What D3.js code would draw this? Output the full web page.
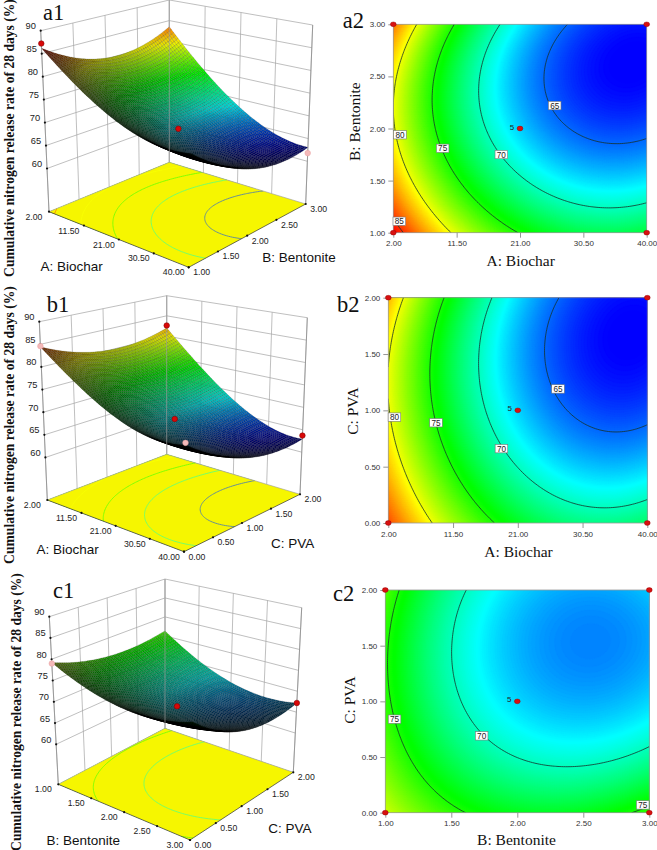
<!DOCTYPE html>
<html><head><meta charset="utf-8">
<script src="https://cdn.jsdelivr.net/npm/d3@7/dist/d3.min.js"></script>
<style>html,body{margin:0;padding:0;background:#fff}svg{display:block}</style>
</head><body><svg id="chart" width="657" height="850" viewBox="0 0 657 850"></svg>
<script>
// ---------- data ----------
const biocharTicks = [2, 11.5, 21, 30.5, 40];
const bentoniteTicks = [1, 1.5, 2, 2.5, 3];
const pvaTicks = [0, 0.5, 1, 1.5, 2];
const responseTicks = [60, 65, 70, 75, 80, 85, 90];
const contourLevels = [65, 70, 75, 80, 85];
const responseFloor = 50.6;

// response at the tick levels: rows = y factor ascending, columns = x factor ascending
const surfaceAB = [
  [86.1, 79.6, 75.2, 72.8, 72.5],
  [82.2, 75.0, 69.8, 67.9, 68.8],
  [80.5, 73.0, 67.4, 64.3, 64.3],
  [80.3, 72.5, 66.6, 63.3, 62.5],
  [83.5, 74.6, 68.2, 64.5, 63.0]
];
const surfaceAC = [
  [84.6, 78.3, 73.6, 71.1, 72.0],
  [81.0, 75.0, 70.0, 67.4, 67.8],
  [80.5, 72.8, 67.7, 64.4, 64.3],
  [80.3, 72.6, 66.7, 63.3, 62.4],
  [82.0, 73.7, 67.9, 64.0, 63.0]
];
const surfaceBC = [
  [79.0, 75.6, 73.9, 73.9, 75.5],
  [77.2, 72.4, 69.8, 69.3, 71.0],
  [75.3, 70.6, 67.5, 66.5, 67.5],
  [75.3, 70.0, 66.9, 65.8, 66.5],
  [76.3, 70.9, 67.7, 66.4, 67.1]
];

// design points: [x factor, y factor, response, is-below-surface]
const pointsAB = [[2, 1, 87.2, 0], [21, 2, 68.6, 0], [40, 3, 61.8, 1]];
const pointsAC = [[2, 2, 82.6, 0], [2, 0, 84.6, 1], [21, 1, 68.6, 0], [40, 0, 72.4, 1], [40, 2, 63.7, 0]];
const pointsBC = [[1, 0, 79.0, 1], [2, 1, 68.3, 0], [3, 2, 67.2, 0]];

// contour label placements: [x factor, y factor, text]
const labelsAB = [[2.9, 1.11, "85"], [3, 1.94, "80"], [9.4, 1.81, "75"], [18.2, 1.75, "70"], [26.2, 2.22, "65"]];
const labelsAC = [[2.9, 0.94, "80"], [9, 0.89, "75"], [18.6, 0.66, "70"], [26.9, 1.19, "65"]];
const labelsBC = [[1.07, 0.84, "75"], [1.73, 0.69, "70"], [2.95, 0.07, "75"]];

const colorStops = [62.6, 68.5, 74.4, 80.3, 86.2];
const colorRange = ["#0000ff", "#00ffff", "#00ff00", "#ffff00", "#ff0000"];

// ---------- layout ----------
const rows = [
  {
    key: "a", grid: surfaceAB, xTicks: biocharTicks, yTicks: bentoniteTicks, pts: pointsAB, labels: labelsAB,
    xName: "A: Biochar", yName: "B: Bentonite",
    box: { L0:[49,211.7], L1:[40.7,30.7], B0:[169.3,162.3], B1:[169.3,0], R0:[305.7,204], R1:[312.7,25], F0:[188.7,267.3], F1:[191.7,66.7] },
    t3: [43,20], t2: [342.7,28], xT3: [71.7,271], yT3: [299,262], zT: [14,138],
    plot: { x0:393.3, x1:646.7, y0:24.3, y1:232.7 }, xT2: [520.7,266], yT2: [360,121.7], repl: [-8,-1]
  },
  {
    key: "b", grid: surfaceAC, xTicks: biocharTicks, yTicks: pvaTicks, pts: pointsAC, labels: labelsAC,
    xName: "A: Biochar", yName: "C: PVA",
    box: { L0:[47.3,500], L1:[39.3,321.7], B0:[166.7,454.3], B1:[166.7,295.7], R0:[300,494.3], R1:[307.3,317.7], F0:[184,551.7], F1:[186.7,355] },
    t3: [46.7,311.7], t2: [337,311.7], xT3: [67.7,554], yT3: [292.7,547.5], zT: [14,425],
    plot: { x0:388.3, x1:647.3, y0:297.7, y1:523 }, xT2: [518.5,557], yT2: [358,411], repl: [-8,-1]
  },
  {
    key: "c", grid: surfaceBC, xTicks: bentoniteTicks, yTicks: pvaTicks, pts: pointsBC, labels: labelsBC,
    xName: "B: Bentonite", yName: "C: PVA",
    box: { L0:[58.3,784.3], L1:[49.3,616.7], B0:[165,728.3], B1:[165,579], R0:[293.3,772.3], R1:[301.7,607.7], F0:[190,840], F1:[194.3,654.3] },
    t3: [53,598], t2: [333,600.7], xT3: [83.3,845], yT3: [290,833], zT: [21,712],
    plot: { x0:385.3, x1:649.3, y0:590, y1:812.7 }, xT2: [516.5,845], yT2: [355,700], repl: [-8,-1]
  }
];

const SANS = "'Liberation Sans', Arial, sans-serif";
const SERIF = "'Liberation Serif', 'Times New Roman', serif";
const svg = d3.select("#chart");
const defs = svg.append("defs");
const fmt = d3.format(".2f");
const colorOf = d3.scaleLinear().domain(colorStops).range(colorRange).interpolate(d3.interpolateRgb).clamp(true);
const zFrac = d3.scaleLinear().domain([responseFloor, 90]).range([0, 1]);

// Smooth reading of a 5x5 table: low-order least-squares fit over the five tick levels
const P5 = [[1, 1, 1, 1, 1], [-2, -1, 0, 1, 2], [2, -1, -2, -1, 2], [-1, 2, 0, -2, 1]];
const P5norm = [5, 10, 14, 10];
const pEval = x => [1, x, x * x - 2, (5 / 6) * (x * x * x - 3.4 * x)];
function sampler(grid) {
  const coef = [];
  for (let a = 0; a < 4; a++) for (let b = 0; a + b < 4; b++) {
    let sum = 0;
    for (let r = 0; r < 5; r++) for (let c = 0; c < 5; c++) sum += grid[r][c] * P5[a][c] * P5[b][r];
    coef.push([a, b, sum / (P5norm[a] * P5norm[b])]);
  }
  return (u, v) => {
    const pu = pEval(u * 4 - 2), pv = pEval(v * 4 - 2);
    let z = 0;
    coef.forEach(k => { z += k[2] * pu[k[0]] * pv[k[1]]; });
    return z;
  };
}
function fineField(f, n) {
  const vals = new Array(n * n);
  for (let j = 0; j < n; j++) for (let i = 0; i < n; i++) vals[j * n + i] = f(i / (n - 1), j / (n - 1));
  return vals;
}
const mix = (a, b, t) => [a[0] + (b[0] - a[0]) * t, a[1] + (b[1] - a[1]) * t];

rows.forEach(row => {
  const f = sampler(row.grid), b = row.box;
  const uS = d3.scaleLinear().domain(d3.extent(row.xTicks)).range([0, 1]);
  const vS = d3.scaleLinear().domain(d3.extent(row.yTicks)).range([0, 1]);

  // t: front-left edge L->F, s: L->B
  const floorAt = (t, s) => mix(mix(b.L0, b.F0, t), mix(b.B0, b.R0, t), s);
  const topAt = (t, s) => mix(mix(b.L1, b.F1, t), mix(b.B1, b.R1, t), s);
  const proj = (t, s, z) => mix(floorAt(t, s), topAt(t, s), zFrac(z));

  const g3 = svg.append("g").attr("class", "surface3d-" + row.key);
  const wall = "#a3a3a3";
  const seg = (p, q, col, w) => g3.append("line").attr("x1", p[0]).attr("y1", p[1]).attr("x2", q[0]).attr("y2", q[1])
    .attr("stroke", col).attr("stroke-width", w);

  // back walls
  responseTicks.forEach(z => {
    seg(proj(0, 0, z), proj(0, 1, z), wall, 0.7);
    seg(proj(0, 1, z), proj(1, 1, z), wall, 0.7);
  });
  row.yTicks.forEach(v => seg(floorAt(0, vS(v)), topAt(0, vS(v)), wall, 0.7));
  row.xTicks.forEach(v => seg(floorAt(uS(v), 1), topAt(uS(v), 1), wall, 0.7));

  // floor
  const floorPoly = [[0, 0], [1, 0], [1, 1], [0, 1]].map(d => floorAt(d[0], d[1]));
  g3.append("polygon").attr("points", floorPoly.join(" ")).attr("fill", "#f6f600").attr("stroke", "none");
  const clipF = "floor-" + row.key;
  defs.append("clipPath").attr("id", clipF).append("polygon").attr("points", floorPoly.join(" "));
  const nC = 81;
  const field = fineField(f, nC);
  const floorPath = d3.geoPath(d3.geoTransform({
    point(x, y) {
      const p = floorAt((x - 0.5) / (nC - 1), (y - 0.5) / (nC - 1));
      this.stream.point(p[0], p[1]);
    }
  }));
  g3.append("g").attr("clip-path", `url(#${clipF})`).selectAll("path")
    .data(d3.contours().size([nC, nC]).thresholds(contourLevels)(field))
    .join("path").attr("d", floorPath).attr("fill", "none")
    .attr("stroke", d => d.value > 67
      ? d3.interpolateRgb(colorOf(d.value), "#ffff00")(0.45)
      : d3.interpolateRgb(colorOf(d.value), "#a8a850")(0.62))
    .attr("stroke-width", 1);
  // floor edges and ticks
  seg(b.L0, b.F0, "#333", 0.7); seg(b.F0, b.R0, "#333", 0.7);
  seg(b.L0, b.B0, "#999", 0.6); seg(b.B0, b.R0, "#999", 0.6);

  // surface mesh, painted back to front
  const N = 64, dd = 1e-3;
  const quads = [];
  for (let i = 0; i < N; i++) for (let j = N - 1; j >= 0; j--) {
    const t0 = i / N, t1 = (i + 1) / N, s0 = j / N, s1 = (j + 1) / N;
    const tm = (t0 + t1) / 2, sm = (s0 + s1) / 2;
    const z = f(tm, sm);
    const dzt = (f(tm + dd, sm) - f(tm - dd, sm)) / (2 * dd);
    const dzs = (f(tm, sm + dd) - f(tm, sm - dd)) / (2 * dd);
    const ndv = (0.0178 * (dzs - dzt) + 0.407) / Math.hypot(1, 0.0276 * dzt, 0.0276 * dzs);
    const shade = Math.min(1, Math.pow(Math.abs(ndv), 1.3) * 1.08);
    const c = d3.rgb(colorOf(z));
    quads.push({
      pts: [[t0, s0], [t1, s0], [t1, s1], [t0, s1]].map(q => proj(q[0], q[1], f(q[0], q[1]))),
      fill: d3.rgb(c.r * shade, c.g * shade, c.b * shade)
    });
  }
  const quadLine = d3.line().curve(d3.curveLinearClosed);
  g3.append("g").selectAll("path").data(quads).join("path")
    .attr("d", d => quadLine(d.pts)).attr("fill", d => d.fill)
    .attr("stroke", "#000").attr("stroke-opacity", 0.3).attr("stroke-width", 0.45);

  // vertical axis + tick dots
  seg(b.L0, b.L1, "#888", 0.7); seg(b.B0, b.B1, "#a3a3a3", 0.7); seg(b.R0, b.R1, "#888", 0.7);
  const dot = (p) => g3.append("circle").attr("cx", p[0]).attr("cy", p[1]).attr("r", 1.1).attr("fill", "#111");
  const tick = (p, s, anchor = "middle", dx = 0, dy = 0) => g3.append("text").attr("x", p[0] + dx).attr("y", p[1] + dy)
    .attr("text-anchor", anchor).attr("font-family", SANS).attr("font-size", 8.7).attr("fill", "#222").text(s);
  responseTicks.forEach(z => {
    const p = proj(0, 0, z);
    dot(p);
    g3.append("text").attr("x", p[0] - 10).attr("y", p[1] - 1.5).attr("text-anchor", "middle")
      .attr("font-family", SANS).attr("font-size", 9.3).attr("fill", "#222").text(z);
  });
  row.xTicks.forEach(v => { const p = floorAt(uS(v), 0); dot(p); tick(p, fmt(v), "middle", -15, 8); });
  row.yTicks.forEach(v => { const p = floorAt(1, vS(v)); dot(p); tick(p, fmt(v), "middle", 13, 8); });

  // design points on the 3-D view
  g3.append("g").selectAll("circle").data(row.pts).join("circle")
    .attr("cx", d => proj(uS(d[0]), vS(d[1]), d[2])[0])
    .attr("cy", d => proj(uS(d[0]), vS(d[1]), d[2])[1])
    .attr("r", 2.8)
    .attr("fill", d => d[3] ? "#f4b9b9" : "#d80808")
    .attr("stroke", d => d[3] ? "#e8a0a0" : "#7a0000").attr("stroke-width", 0.5);

  // titles
  const txt = (p, s, fam, size, extra = {}) => {
    const e = svg.append("text").attr("x", p[0]).attr("y", p[1]).attr("font-family", fam).attr("font-size", size).attr("fill", "#111").text(s);
    Object.entries(extra).forEach(([k, v]) => e.attr(k, v));
    return e;
  };
  txt(row.xT3, row.xName, SANS, 13.5, { "text-anchor": "middle" });
  txt(row.yT3, row.yName, SANS, 13.5, { "text-anchor": "middle" });
  txt([0, 0], "Cumulative nitrogen release rate of 28 days (%)", SERIF, 13.6, {
    "text-anchor": "middle", "font-weight": "bold",
    transform: `translate(${row.zT[0]},${row.zT[1]}) rotate(-90)`
  });
  txt(row.t3, row.key + "1", SERIF, 22.5);
  txt(row.t2, row.key + "2", SERIF, 22.5);

  // ---------- 2-D contour plot ----------
  const P = row.plot;
  const xS = d3.scaleLinear().domain(d3.extent(row.xTicks)).range([P.x0, P.x1]);
  const yS = d3.scaleLinear().domain(d3.extent(row.yTicks)).range([P.y1, P.y0]);
  const g2 = svg.append("g").attr("class", "contour2d-" + row.key);
  const clip2 = "plot-" + row.key;
  defs.append("clipPath").attr("id", clip2).append("rect")
    .attr("x", P.x0).attr("y", P.y0).attr("width", P.x1 - P.x0).attr("height", P.y1 - P.y0);
  const n2 = 121;
  const vals = fineField(f, n2);
  const pathFine = d3.geoPath(d3.geoTransform({
    point(x, y) {
      this.stream.point(P.x0 + (x - 0.5) / (n2 - 1) * (P.x1 - P.x0), P.y1 - (y - 0.5) / (n2 - 1) * (P.y1 - P.y0));
    }
  }));
  const zMin = d3.min(vals), zMax = d3.max(vals);
  const inner = g2.append("g").attr("clip-path", `url(#${clip2})`);
  inner.append("rect").attr("x", P.x0).attr("y", P.y0).attr("width", P.x1 - P.x0).attr("height", P.y1 - P.y0)
    .attr("fill", colorOf(zMin));
  inner.append("g").selectAll("path")
    .data(d3.contours().size([n2, n2]).thresholds(d3.range(Math.floor(zMin), zMax, 0.1))(vals))
    .join("path").attr("d", pathFine).attr("fill", d => colorOf(d.value + 0.05))
    .attr("stroke", d => colorOf(d.value + 0.05)).attr("stroke-width", 0.2);
  inner.append("g").selectAll("path")
    .data(d3.contours().size([n2, n2]).thresholds(contourLevels)(vals))
    .join("path").attr("d", pathFine).attr("fill", "none").attr("stroke", "#17322a").attr("stroke-width", 0.8);
  g2.append("rect").attr("x", P.x0).attr("y", P.y0).attr("width", P.x1 - P.x0).attr("height", P.y1 - P.y0)
    .attr("fill", "none").attr("stroke", "#9a9a9a").attr("stroke-width", 0.8);

  const styleAxis = a => {
    a.select(".domain").remove();
    a.selectAll("line").attr("stroke", "#8a8a8a").attr("stroke-width", 0.9);
    a.selectAll("text").attr("font-family", SANS).attr("font-size", 8).attr("fill", "#333");
  };
  g2.append("g").attr("transform", `translate(0,${P.y1})`)
    .call(d3.axisBottom(xS).tickValues(row.xTicks).tickFormat(fmt).tickSize(5).tickPadding(3)).call(styleAxis);
  g2.append("g").attr("transform", `translate(${P.x0},0)`)
    .call(d3.axisLeft(yS).tickValues(row.yTicks).tickFormat(fmt).tickSize(5).tickPadding(3)).call(styleAxis);

  txt(row.xT2, row.xName, SERIF, 15.5, { "text-anchor": "middle" });
  txt([0, 0], row.yName, SERIF, 15.5, {
    "text-anchor": "middle", transform: `translate(${row.yT2[0]},${row.yT2[1]}) rotate(-90)`
  });

  // contour labels
  const lab = g2.append("g").selectAll("g").data(row.labels).join("g")
    .attr("transform", d => `translate(${xS(d[0])},${yS(d[1])})`);
  lab.append("rect").attr("x", -6.3).attr("y", -4.2).attr("width", 12.6).attr("height", 8.4)
    .attr("fill", "#fff").attr("stroke", "#777").attr("stroke-width", 0.6);
  lab.append("text").attr("text-anchor", "middle").attr("y", 3).attr("font-family", SANS)
    .attr("font-size", 8.2).attr("fill", "#222").text(d => d[2]);

  // design points on the 2-D plot
  const xEnds = d3.extent(row.xTicks), yEnds = d3.extent(row.yTicks);
  const mid = [d3.median(row.xTicks), d3.median(row.yTicks)];
  const designs = [[xEnds[0], yEnds[0]], [xEnds[0], yEnds[1]], [xEnds[1], yEnds[0]], [xEnds[1], yEnds[1]], mid];
  g2.append("g").selectAll("ellipse").data(designs).join("ellipse")
    .attr("cx", d => xS(d[0])).attr("cy", d => yS(d[1])).attr("rx", 2.9).attr("ry", 2.4)
    .attr("fill", "#d81010").attr("stroke", "#8a0000").attr("stroke-width", 0.4);
  g2.append("text").attr("x", xS(mid[0]) + row.repl[0]).attr("y", yS(mid[1]) + 2 + row.repl[1])
    .attr("text-anchor", "middle").attr("font-family", SANS).attr("font-size", 8).attr("fill", "#222").text("5");
});
</script></body></html>
